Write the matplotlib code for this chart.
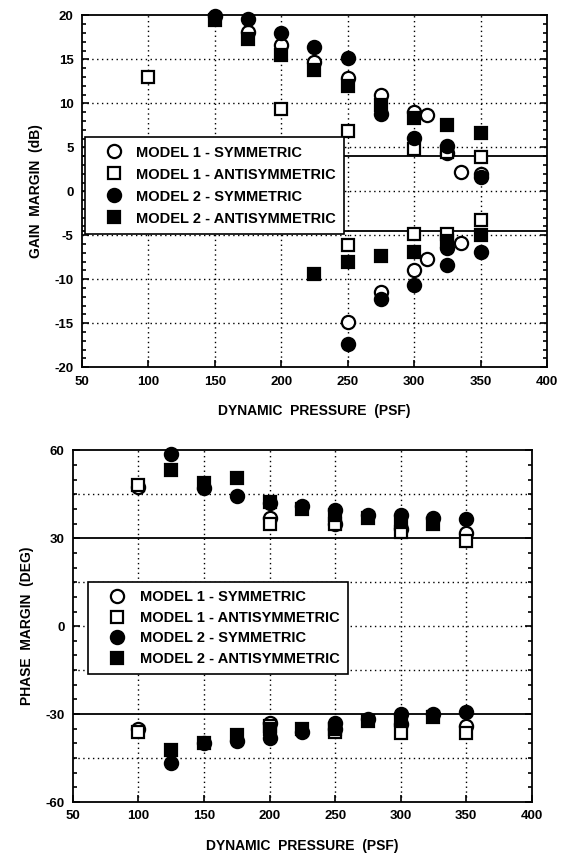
import matplotlib
matplotlib.use('Agg')
import matplotlib.pyplot as plt
from matplotlib.ticker import MultipleLocator

plt.rcParams['font.family'] = ['Liberation Sans', 'DejaVu Sans']
plt.rcParams['font.weight'] = 'bold'
plt.rcParams['axes.unicode_minus'] = False

# gain margin data (dB) vs dynamic pressure (psf)
gain_m1_sym_x = [175, 200, 225, 250, 275, 300, 310, 325, 335, 350, 250, 275, 300, 310, 335]
gain_m1_sym_y = [18.1, 16.6, 14.7, 12.9, 11.0, 9.0, 8.7, 4.3, 2.2, 2.0, -14.9, -11.5, -8.9, -7.7, -5.9]
gain_m1_anti_x = [100, 200, 250, 300, 325, 350, 250, 300, 325, 350]
gain_m1_anti_y = [13.0, 9.4, 6.9, 4.8, 4.5, 3.9, -6.1, -4.8, -4.9, -3.3]
gain_m2_sym_x = [150, 175, 200, 225, 250, 275, 300, 325, 350, 250, 275, 300, 325, 325, 350]
gain_m2_sym_y = [19.9, 19.6, 18.0, 16.4, 15.2, 8.8, 6.1, 5.2, 1.6, -17.4, -12.3, -10.7, -6.4, -8.4, -6.9]
gain_m2_anti_x = [150, 175, 200, 225, 250, 275, 300, 325, 350, 225, 250, 275, 300, 325, 350]
gain_m2_anti_y = [19.5, 17.3, 15.5, 13.8, 12.0, 9.8, 8.3, 7.5, 6.6, -9.4, -8.0, -7.3, -6.9, -5.7, -5.0]
gain_limits = [4.0, -4.5]

# phase margin data (deg)
phase_m1_sym_x = [100, 200, 250, 300, 350, 100, 200, 250, 300, 350]
phase_m1_sym_y = [47.5, 37.0, 35.0, 33.0, 31.7, -35.0, -33.0, -35.0, -33.5, -34.0]
phase_m1_anti_x = [100, 200, 250, 300, 350, 100, 200, 250, 300, 350]
phase_m1_anti_y = [48.0, 35.0, 35.0, 32.0, 29.0, -36.0, -34.0, -36.0, -36.5, -36.5]
phase_m2_sym_x = [125, 150, 175, 200, 225, 250, 275, 300, 325, 350,
                  125, 150, 175, 200, 225, 250, 275, 300, 325, 350]
phase_m2_sym_y = [58.7, 47.0, 44.4, 42.0, 41.0, 39.5, 38.0, 38.0, 37.0, 36.5,
                  -46.8, -40.0, -39.0, -38.0, -36.0, -33.0, -31.5, -30.0, -30.0, -29.3]
phase_m2_anti_x = [125, 150, 175, 200, 225, 250, 275, 300, 325,
                   125, 150, 175, 200, 225, 250, 275, 300, 325]
phase_m2_anti_y = [53.2, 49.0, 50.5, 42.3, 40.0, 38.0, 37.0, 35.5, 35.0,
                   -42.3, -40.0, -37.0, -35.0, -35.0, -35.0, -32.5, -32.0, -31.0]
phase_limits = [30, -30]

labels = ['MODEL 1 - SYMMETRIC', 'MODEL 1 - ANTISYMMETRIC',
          'MODEL 2 - SYMMETRIC', 'MODEL 2 - ANTISYMMETRIC']

x_ticks = [50, 100, 150, 200, 250, 300, 350, 400]
gain_ticks = [-20, -15, -10, -5, 0, 5, 10, 15, 20]
phase_ticks = [-60, -30, 0, 30, 60]


def draw_panel(ax, series, limits, yticks, ygrid, yminor, ylabel, legend_anchor, lspace):
    for lim in limits:
        ax.axhline(lim, color='black', lw=1.3, zorder=1)
    styles = [('o', 'white', 9.5), ('s', 'white', 8.5), ('o', 'black', 9.5), ('s', 'black', 8.5)]
    for (xs, ys), (m, fc, ms), lab in zip(series, styles, labels):
        ax.plot(xs, ys, ls='none', marker=m, mfc=fc, mec='black', mew=1.6, ms=ms,
                label=lab, zorder=3, clip_on=False)

    ax.set_xlim(50, 400)
    ax.set_ylim(yticks[0], yticks[-1])
    ax.set_xticks(x_ticks)
    ax.set_yticks(yticks)
    ax.yaxis.set_minor_locator(MultipleLocator(yminor))
    for g in ygrid:
        ax.axhline(g, color='black', lw=1.0, ls=(0, (1, 2.5)), zorder=0.5)
    for g in x_ticks[1:-1]:
        ax.axvline(g, color='black', lw=1.0, ls=(0, (1, 2.5)), zorder=0.5)
    ax.tick_params(which='both', direction='in', right=True, top=False, width=1.2)
    ax.tick_params(which='major', length=5, labelsize=9.5, pad=6)
    ax.tick_params(which='minor', length=3)
    for sp in ax.spines.values():
        sp.set_linewidth(1.3)
    ax.set_xlabel('DYNAMIC  PRESSURE  (PSF)', fontsize=10, fontweight='bold', labelpad=12)
    ax.set_ylabel(ylabel, fontsize=10, fontweight='bold', labelpad=8)

    leg = ax.legend(loc='upper left', bbox_to_anchor=legend_anchor, fontsize=10.5,
                    frameon=True, fancybox=False, edgecolor='black', framealpha=1,
                    handletextpad=0.1, labelspacing=lspace, borderpad=0.55,
                    handlelength=2.9, borderaxespad=0)
    leg.get_frame().set_linewidth(1.2)
    leg.set_zorder(5)
    for t in leg.get_texts():
        t.set_fontweight('bold')


fig = plt.figure(figsize=(5.61, 8.56), dpi=100)

ax1 = fig.add_axes([0.146, 0.571, 0.829, 0.411])
draw_panel(ax1,
           [(gain_m1_sym_x, gain_m1_sym_y), (gain_m1_anti_x, gain_m1_anti_y),
            (gain_m2_sym_x, gain_m2_sym_y), (gain_m2_anti_x, gain_m2_anti_y)],
           gain_limits, gain_ticks, [-15, -10, -5, 0, 5, 10, 15], 1,
           'GAIN  MARGIN  (dB)', (0.006, 0.653), 0.55)

ax2 = fig.add_axes([0.130, 0.063, 0.818, 0.411])
draw_panel(ax2,
           [(phase_m1_sym_x, phase_m1_sym_y), (phase_m1_anti_x, phase_m1_anti_y),
            (phase_m2_sym_x, phase_m2_sym_y), (phase_m2_anti_x, phase_m2_anti_y)],
           phase_limits, phase_ticks, [-45, -15, 0, 15, 45], 5,
           'PHASE  MARGIN  (DEG)', (0.033, 0.625), 0.45)

fig.savefig('out.png', dpi=100)
